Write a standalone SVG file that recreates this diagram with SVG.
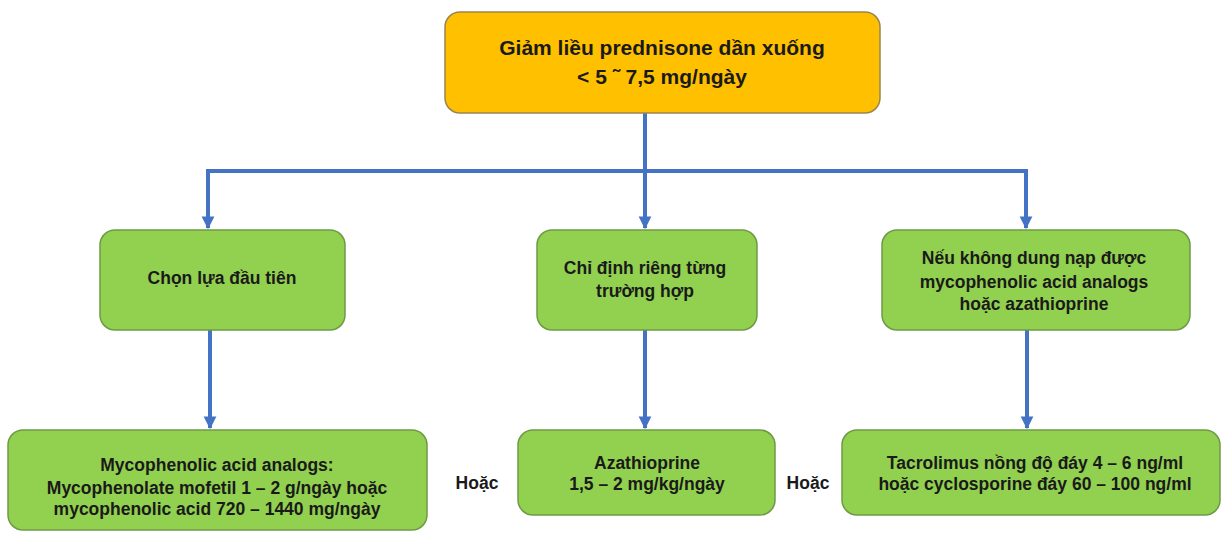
<svg xmlns="http://www.w3.org/2000/svg" width="1222" height="555" viewBox="0 0 1222 555">
<defs>
<style>
.box{fill:#92D050;stroke:#6F9A45;stroke-width:1.5}
.top{fill:#FFC000;stroke:#9C8450;stroke-width:1.5}
text{font-family:"Liberation Sans",Arial,sans-serif;font-weight:bold;font-size:17.5px;fill:#1a1a1a;text-anchor:middle}
.big{font-size:21px}
.con{stroke:#4472C4;stroke-width:4;fill:none}
</style>
<marker id="ah" viewBox="0 0 10 10" refX="9" refY="5" markerWidth="3.2" markerHeight="3.4" orient="auto" markerUnits="strokeWidth">
<path d="M0,0 L10,5 L0,10 z" fill="#4472C4"/>
</marker>
</defs>
<rect width="1222" height="555" fill="#ffffff"/>
<g id="connectors">
<path class="con" d="M645,113 V171"/>
<path class="con" d="M208,171 H1026"/>
<path class="con" d="M208,169 V228" marker-end="url(#ah)"/>
<path class="con" d="M645,171 V228" marker-end="url(#ah)"/>
<path class="con" d="M1026,169 V228" marker-end="url(#ah)"/>
<path class="con" d="M210,330 V428" marker-end="url(#ah)"/>
<path class="con" d="M645,330 V428" marker-end="url(#ah)"/>
<path class="con" d="M1027,330 V428" marker-end="url(#ah)"/>
</g>
<g id="n-top">
<rect class="top" x="445" y="12" width="435" height="101" rx="15"/>
<text class="big" x="662" y="55">Giảm liều prednisone dần xuống</text>
<text class="big" x="662" y="84">&lt; 5 ˜ 7,5 mg/ngày</text>
</g>
<g id="n-a">
<rect class="box" x="100" y="230" width="245" height="100" rx="15"/>
<text x="222" y="284">Chọn lựa đầu tiên</text>
</g>
<g id="n-b">
<rect class="box" x="537" y="230" width="220" height="100" rx="15"/>
<text x="645" y="274">Chỉ định riêng từng</text>
<text x="645" y="297">trường hợp</text>
</g>
<g id="n-c">
<rect class="box" x="882" y="230" width="308" height="100" rx="15"/>
<text x="1034" y="264">Nếu không dung nạp được</text>
<text x="1034" y="288">mycophenolic acid analogs</text>
<text x="1034" y="310">hoặc azathioprine</text>
</g>
<g id="n-d">
<rect class="box" x="8" y="430" width="419" height="100" rx="15"/>
<text x="217" y="471">Mycophenolic acid analogs:</text>
<text x="217" y="494">Mycophenolate mofetil 1 – 2 g/ngày hoặc</text>
<text x="217" y="515">mycophenolic acid 720 – 1440 mg/ngày</text>
</g>
<g id="n-e">
<rect class="box" x="518" y="430" width="257" height="85" rx="15"/>
<text x="647" y="469">Azathioprine</text>
<text x="647" y="490">1,5 – 2 mg/kg/ngày</text>
</g>
<g id="n-f">
<rect class="box" x="842" y="430" width="378" height="85" rx="15"/>
<text x="1035" y="469">Tacrolimus nồng độ đáy 4 – 6 ng/ml</text>
<text x="1035" y="490">hoặc cyclosporine đáy 60 – 100 ng/ml</text>
</g>
<g id="l-or1"><text x="477" y="489">Hoặc</text></g>
<g id="l-or2"><text x="808" y="489">Hoặc</text></g>
</svg>
